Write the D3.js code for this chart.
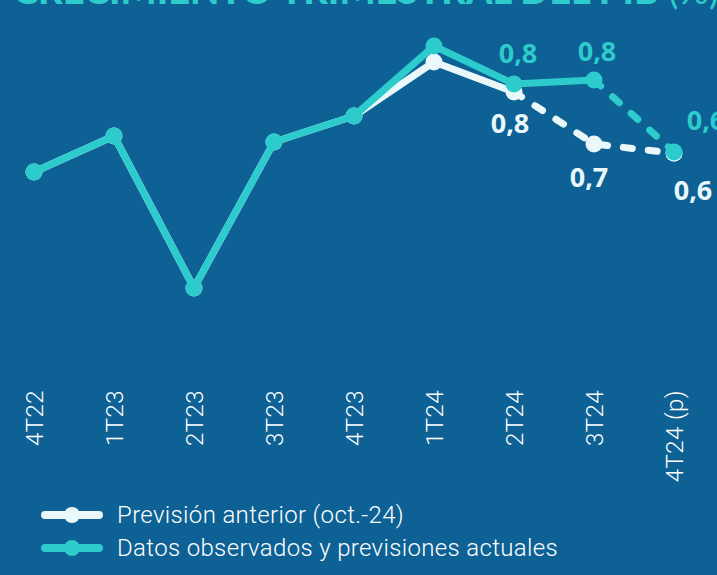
<!DOCTYPE html>
<html>
<head>
<meta charset="utf-8">
<script src="https://cdn.jsdelivr.net/npm/d3@7"></script>
<style>
  html, body { margin: 0; padding: 0; background: #0d6194; }
  svg { display: block; }
</style>
</head>
<body>
<svg id="chart"></svg>
<script>
// data
var quarters = ["4T22", "1T23", "2T23", "3T23", "4T23", "1T24", "2T24", "3T24", "4T24 (p)"];
var actual   = [0.59, 0.68, 0.30, 0.665, 0.73, 0.905, 0.81, 0.82, 0.64];
var previous = [0.59, 0.68, 0.30, 0.665, 0.73, 0.865, 0.79, 0.66, 0.637];
var actualLabels   = [null, null, null, null, null, null, "0,8", "0,8", "0,6"];
var previousLabels = [null, null, null, null, null, null, "0,8", "0,7", "0,6"];
var seriesNames = ["Previsión anterior (oct.-24)", "Datos observados y previsiones actuales"];
var title = "CRECIMIENTO TRIMESTRAL DEL PIB";

var W = 717, H = 575;
var BG = "#0d6194", TEAL = "#2ecbcc", WHITE = "#eaf8fb";

var svg = d3.select("#chart").attr("width", W).attr("height", H);
svg.append("rect").attr("width", W).attr("height", H).attr("fill", BG);

var x = d3.scalePoint().domain(quarters).range([34, 674]);
var y = d3.scaleLinear().domain([0.2, 1.0]).range([328, 8]);

// title, cut at the top
var t = svg.append("text")
  .attr("x", 13).attr("y", 4)
  .attr("font-family", "Lato")
  .attr("font-size", 38)
  .attr("font-weight", 900)
  .attr("fill", TEAL);
t.append("tspan").text(title + " ");
t.append("tspan").attr("font-weight", 400).text("(%)");

function pts(vals){
  return vals.map(function(v, i){ return {q: quarters[i], v: v, i: i}; });
}

var line = d3.line()
  .x(function(d){ return x(d.q); })
  .y(function(d){ return y(d.v); });

// draws one series: solid up to splitAt, dashed after
function drawSeries(vals, color, splitAt){
  var p = pts(vals);
  var g = svg.append("g");
  g.append("path")
    .attr("d", line(p.slice(0, splitAt + 1)))
    .attr("fill", "none").attr("stroke", color)
    .attr("stroke-width", 7).attr("stroke-linejoin", "round").attr("stroke-linecap", "round");
  g.append("path")
    .attr("d", line(p.slice(splitAt)))
    .attr("fill", "none").attr("stroke", color)
    .attr("stroke-width", 7).attr("stroke-linecap", "round")
    .attr("stroke-dasharray", "9 16");
  g.selectAll("circle").data(p).enter()
    .append("circle")
    .attr("cx", function(d){ return x(d.q); })
    .attr("cy", function(d){ return y(d.v); })
    .attr("r", 8.5)
    .attr("fill", color);
}

drawSeries(previous, WHITE, 6);
drawSeries(actual, TEAL, 7);

// value labels
function drawLabels(vals, labels, color, offsets){
  svg.append("g").selectAll("text")
    .data(pts(vals).filter(function(d){ return labels[d.i]; }))
    .enter().append("text")
    .attr("x", function(d){ return x(d.q) + offsets[d.i][0]; })
    .attr("y", function(d){ return y(d.v) + offsets[d.i][1]; })
    .attr("text-anchor", "middle")
    .attr("font-family", "Open Sans")
    .attr("font-size", 27)
    .attr("font-weight", 700)
    .attr("fill", color)
    .text(function(d){ return labels[d.i]; });
}
var offTeal  = {6: [4, -21], 7: [3, -19], 8: [32, -22]};
var offWhite = {6: [-4, 41], 7: [-5, 43], 8: [19, 47]};
drawLabels(actual, actualLabels, TEAL, offTeal);
drawLabels(previous, previousLabels, WHITE, offWhite);

// x axis labels, rotated
svg.append("g").selectAll("text")
  .data(quarters).enter()
  .append("text")
  .attr("transform", function(d){ return "translate(" + (x(d) + 1) + ",390) rotate(-90)"; })
  .attr("text-anchor", "end")
  .attr("dy", "0.35em")
  .attr("font-family", "Roboto")
  .attr("font-weight", 300)
  .attr("font-size", 24)
  .attr("letter-spacing", 0.4)
  .attr("fill", "#ffffff")
  .text(function(d){ return d; });

// legend
var legend = svg.append("g");
[WHITE, TEAL].forEach(function(c, i){
  var ly = 515 + i * 33;
  legend.append("line")
    .attr("x1", 45).attr("x2", 99).attr("y1", ly).attr("y2", ly)
    .attr("stroke", c).attr("stroke-width", 8).attr("stroke-linecap", "round");
  legend.append("circle").attr("cx", 72).attr("cy", ly).attr("r", 8).attr("fill", c);
  legend.append("text")
    .attr("x", 117).attr("y", ly + 8)
    .attr("font-family", "Roboto").attr("font-weight", 300)
    .attr("font-size", 24).attr("letter-spacing", 0.35)
    .attr("fill", "#ffffff")
    .text(seriesNames[i]);
});
</script>
</body>
</html>
